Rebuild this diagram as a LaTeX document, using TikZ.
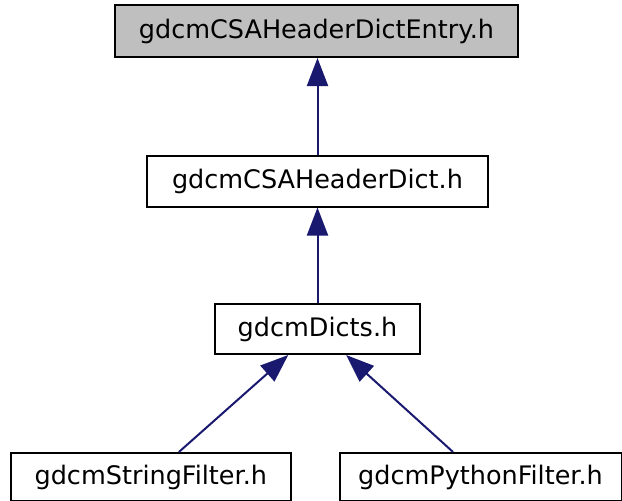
\documentclass[tikz,border=0pt]{standalone}
\usepackage{fontspec}
\setmainfont{DejaVu Sans}
\usetikzlibrary{arrows.meta}
\definecolor{edgecol}{HTML}{191970}
\definecolor{boxgray}{HTML}{BFBFBF}
\begin{document}
\begin{tikzpicture}[x=1pt,y=-1pt,
  box/.style={draw=black,line width=2pt,fill=white,inner sep=0pt,font=\fontsize{25.5}{30}\selectfont,text=black},
  edge/.style={draw=edgecol,line width=2pt,{Triangle[length=28pt,width=21pt]}-}]
\useasboundingbox (0,0) rectangle (622,501);
\node[box,fill=boxgray,minimum width=403pt,minimum height=52pt] (entry) at (316.5,31) {gdcmCSAHeaderDictEntry.h};
\node[box,minimum width=341pt,minimum height=51pt] (dict) at (317.5,181) {gdcmCSAHeaderDict.h};
\node[box,minimum width=205pt,minimum height=50pt] (dicts) at (317.5,329) {gdcmDicts.h};
\node[box,minimum width=280pt,minimum height=48pt] (sf) at (150.8,477) {gdcmStringFilter.h};
\node[box,minimum width=282pt,minimum height=48pt] (pf) at (480.5,477) {gdcmPythonFilter.h};
\draw[edge] (entry.south -| dict.north) -- (dict.north);
\draw[edge] (dict) -- (dicts);
\draw[edge] (dicts) -- (sf);
\draw[edge] (dicts) -- (pf);
\end{tikzpicture}
\end{document}
